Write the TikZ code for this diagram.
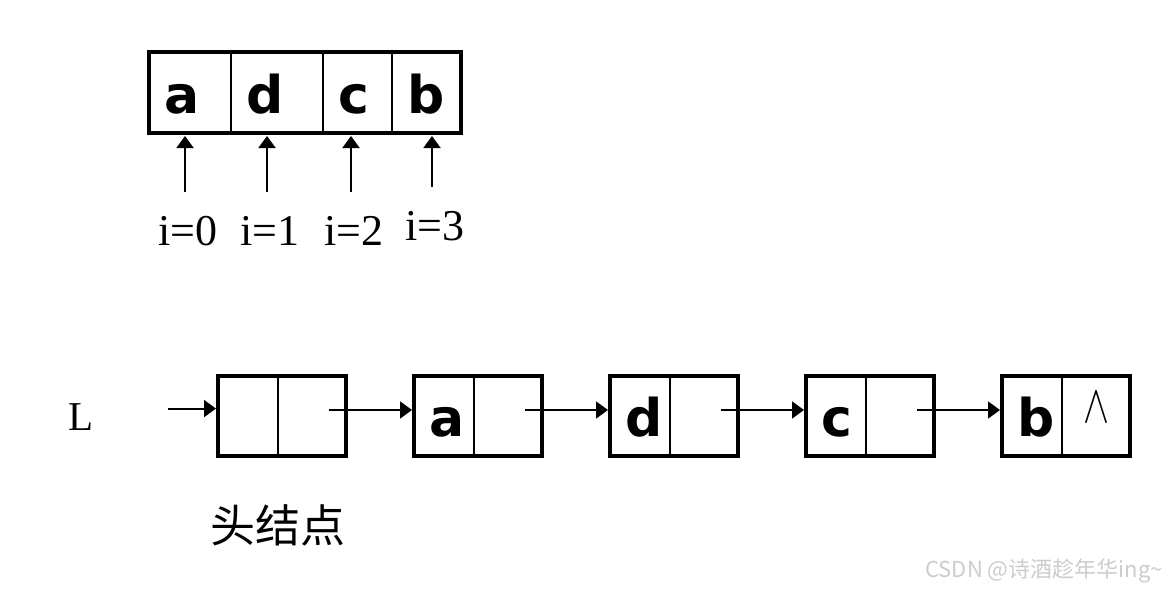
\documentclass[tikz,border=0pt]{standalone}
\usepackage{fontspec}
\setmainfont{Liberation Serif}
\newfontfamily\cellfont{DejaVu Sans}
\newfontfamily\cjkfont{Noto Sans CJK SC}
\usetikzlibrary{positioning,arrows.meta}

\begin{document}
\begin{tikzpicture}[
				x=1pt, y=-1pt,
				cell/.style={
					draw, line width=1.7pt,
					minimum height=81pt,
					inner xsep=15pt, inner ysep=0pt, outer sep=0pt,
					text height=41pt, text depth=0pt,
					align=left,
					font=\cellfont\bfseries\fontsize{52}{52}\selectfont
				},
				ptrcell/.style={
					draw, line width=1.7pt,
					minimum width=68pt, minimum height=80pt,
					inner sep=0pt, outer sep=0pt,
					text height=12pt, text depth=0pt
				},
				frame/.style={draw, line width=3.5pt},
				ptr/.style={-{Triangle[length=12pt,width=17pt]}, line width=2pt},
				idx/.style={anchor=base, inner sep=0pt, font=\fontsize{44}{44}\selectfont}
				]
				\useasboundingbox (0,0) rectangle (1167,589);
				
				% sequential array
				\node[cell, text width=52pt, anchor=north west] (c0) at (149,52) {a};
				\node[cell, text width=62pt, right=0pt of c0] (c1) {d};
				\node[cell, text width=39pt, right=0pt of c1] (c2) {c};
				\node[cell, text width=39pt, right=0pt of c2] (c3) {b};
				\draw[frame] (c0.north west) rectangle (c3.south east);
				
				\node[idx] (i0) at (188,245) {i=0};
				\node[idx] (i1) at (270,245) {i=1};
				\node[idx] (i2) at (354,245) {i=2};
				\node[idx] (i3) at (435,240) {i=3};
				
				\draw[ptr, shorten >=3pt] ([xshift=-3pt,yshift=24pt]i0.north) -- ([xshift=-3pt]i0.north |- c0.south);
				\draw[ptr, shorten >=3pt] ([xshift=-3pt,yshift=24pt]i1.north) -- ([xshift=-3pt]i1.north |- c1.south);
				\draw[ptr, shorten >=3pt] ([xshift=-3pt,yshift=24pt]i2.north) -- ([xshift=-3pt]i2.north |- c2.south);
				\draw[ptr, shorten >=3pt] ([xshift=-3pt,yshift=24pt]i3.north) -- ([xshift=-3pt]i3.north |- c3.south);
				
				% linked list
				\node[cell, text width=30pt, minimum height=80pt, anchor=north west] (n0d) at (218,376) {};
				\node[ptrcell, right=0pt of n0d] (n0p) {};
				\node[cell, text width=30pt, minimum height=80pt, right=68pt of n0p] (n1d) {a};
				\node[ptrcell, right=0pt of n1d] (n1p) {};
				\node[cell, text width=30pt, minimum height=80pt, right=68pt of n1p] (n2d) {d};
				\node[ptrcell, right=0pt of n2d] (n2p) {};
				\node[cell, text width=30pt, minimum height=80pt, right=68pt of n2p] (n3d) {c};
				\node[ptrcell, right=0pt of n3d] (n3p) {};
				\node[cell, text width=30pt, minimum height=80pt, right=68pt of n3p] (n4d) {b};
				\node[ptrcell, right=0pt of n4d] (n4p) {\resizebox{26pt}{30pt}{$\wedge$}};
				
				\draw[frame] (n0d.north west) rectangle (n0p.south east);
				\draw[frame] (n1d.north west) rectangle (n1p.south east);
				\draw[frame] (n2d.north west) rectangle (n2p.south east);
				\draw[frame] (n3d.north west) rectangle (n3p.south east);
				\draw[frame] (n4d.north west) rectangle (n4p.south east);
				
				\draw[ptr, shorten >=2pt] ([xshift=-17pt,yshift=6pt]n0p.east) -- ([yshift=6pt]n1d.west);
				\draw[ptr, shorten >=2pt] ([xshift=-17pt,yshift=6pt]n1p.east) -- ([yshift=6pt]n2d.west);
				\draw[ptr, shorten >=2pt] ([xshift=-17pt,yshift=6pt]n2p.east) -- ([yshift=6pt]n3d.west);
				\draw[ptr, shorten >=2pt] ([xshift=-17pt,yshift=6pt]n3p.east) -- ([yshift=6pt]n4d.west);
				
				\node[anchor=base west, inner sep=0pt, font=\fontsize{41}{41}\selectfont] (L) at (68,430) {L};
				\coordinate (lstart) at ([xshift=75pt,yshift=8pt]L.east);
				\draw[ptr, shorten >=2pt] (lstart) -- (lstart -| n0d.west);
				
				\node[anchor=base, inner sep=0pt, font=\cjkfont\fontsize{45}{45}\selectfont] (head) at ([yshift=-86pt]n0p.south west) {头结点};
				
				\node[anchor=base east, inner sep=0pt, text=gray!40, font=\cjkfont\fontsize{22}{22}\selectfont] (mark) at (1163,577) {CSDN @诗酒趁年华ing\textasciitilde};
			\end{tikzpicture}
\end{document}
